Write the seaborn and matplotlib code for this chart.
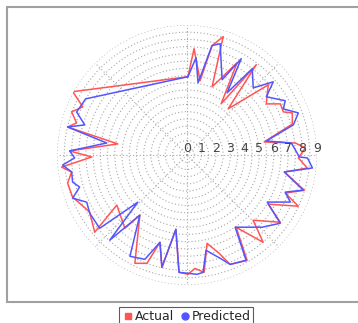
import numpy as np
import pandas as pd
import seaborn as sns
import matplotlib
matplotlib.use("Agg")
import matplotlib.pyplot as plt
from matplotlib.lines import Line2D

# angle (deg, clockwise from north) and value for each series
actual_angle = [0.7, 3.8, 10.0, 12.9, 17.0, 20.2, 28.5, 33.7, 37.5, 41.7,
                49.2, 57.2, 61.3, 65.9, 68.2, 73.6, 80.4, 83.7, 86.6, 91.5,
                96.2, 99.9, 106.7, 111.2, 114.7, 121.2, 125.8, 134.6, 138.9, 145.8,
                150.3, 158.5, 161.9, 167.2, 171.7, 176.0, 179.5, 183.9, 188.5, 192.6,
                197.2, 200.3, 205.7, 218.1, 220.3, 234.5, 230.1, 239.6, 249.8, 256.8,
                261.6, 264.5, 268.8, 272.0, 279.1, 283.2, 286.2, 290.5, 294.8, 299.0]
actual_value = [5.42, 7.38, 5.22, 7.77, 8.57, 5.03, 7.27, 4.26, 7.88, 4.28,
                7.43, 6.53, 7.37, 7.31, 7.85, 7.60, 5.42, 7.55, 8.21, 7.71,
                8.38, 6.84, 8.48, 7.30, 8.48, 6.57, 7.96, 6.43, 8.02, 6.05,
                8.40, 8.14, 7.16, 6.27, 8.21, 7.87, 8.26, 8.14, 5.20, 7.97,
                6.33, 8.00, 8.32, 5.29, 6.65, 5.97, 8.33, 7.81, 8.44, 8.49,
                8.07, 8.72, 6.60, 8.13, 4.85, 8.49, 7.96, 8.53, 7.95, 9.04]

pred_angle = [0.7, 5.3, 8.7, 12.9, 16.6, 25.0, 29.4, 32.8, 37.1, 44.6,
              49.7, 53.7, 61.1, 64.4, 69.3, 74.2, 80.0, 83.4, 91.0, 91.4,
              95.9, 99.9, 106.8, 110.7, 114.5, 120.4, 126.2, 133.8, 146.3, 150.7,
              158.5, 162.2, 168.7, 172.2, 175.2, 183.9, 188.5, 192.6, 197.2, 202.0,
              209.4, 218.1, 222.2, 226.2, 230.0, 239.1, 244.8, 249.3, 253.4, 256.7,
              261.6, 265.4, 268.5, 272.0, 278.5, 283.2, 286.4, 291.3, 299.0]
pred_value = [5.42, 6.76, 5.06, 7.77, 8.04, 5.75, 7.65, 5.12, 7.49, 6.53,
              7.83, 6.81, 7.77, 7.39, 8.24, 7.65, 5.57, 7.27, 7.78, 8.34,
              8.73, 6.84, 8.41, 7.27, 7.86, 6.44, 8.00, 7.22, 6.01, 8.36,
              8.14, 7.51, 6.73, 8.20, 8.29, 8.14, 5.20, 7.97, 6.33, 7.79,
              8.05, 5.29, 7.96, 4.72, 7.89, 7.85, 7.67, 8.46, 7.76, 8.14,
              8.07, 8.64, 7.78, 8.13, 5.62, 8.49, 7.38, 8.20, 8.02]

radial_labels = [str(i) for i in range(10)]
series_names = ["Actual", "Predicted"]
red = "#ff5555"
blue = "#5555ff"

sns.set_style("white")

fig = plt.figure(figsize=(3.58, 3.23), dpi=100)
fig.patch.set_facecolor("white")

# plot area border: left, top, bottom only (right side runs off the picture)
x0, x1 = 7 / 358, 1.05
yt, yb = 1 - 7 / 323, 1 - 302 / 323
for xs, ys in [([x0, x1], [yt, yt]), ([x0, x1], [yb, yb]), ([x0, x0], [yb, yt])]:
    fig.add_artist(Line2D(xs, ys, transform=fig.transFigure, color="#a0a0a0",
                          linewidth=1.5))

ax = fig.add_axes([57 / 358, 38 / 323, 260 / 358, 260 / 323], projection="polar")
ax.set_theta_zero_location("N")
ax.set_theta_direction(-1)
ax.set_facecolor("none")

def closed(angle, value):
    th = np.deg2rad(np.append(angle, angle[0]))
    rr = np.append(value, value[0])
    return pd.DataFrame({"theta": th, "r": rr})

sns.lineplot(data=closed(actual_angle, actual_value), x="theta", y="r", sort=False,
             estimator=None, color=red, linewidth=1.1, ax=ax)
sns.lineplot(data=closed(pred_angle, pred_value), x="theta", y="r", sort=False,
             estimator=None, color=blue, linewidth=1.1, ax=ax)

ax.set_ylim(0, 9.0)
ax.set_rticks(np.arange(0.5, 9.01, 0.5))
ax.set_yticklabels([])
ax.set_thetagrids(range(0, 360, 45), labels=[""] * 8)
ax.grid(True, color="#a8a8a8", linestyle=(0, (1, 2)), linewidth=0.8)
ax.spines["polar"].set_visible(False)
ax.set_xlabel("")
ax.set_ylabel("")

for i, lab in enumerate(radial_labels):
    ax.text(np.deg2rad(90), i, lab, ha="center", va="bottom", fontsize=9,
            color="#444444")

handles = [Line2D([], [], marker="s", linestyle="none", color=red, markersize=5),
           Line2D([], [], marker="o", linestyle="none", color=blue, markersize=5)]
leg = fig.legend(handles, series_names, loc="lower center", bbox_to_anchor=(0.52, -0.03),
                 ncol=2, fontsize=9, frameon=True, fancybox=False,
                 handletextpad=0.0, columnspacing=0.4, borderpad=0.25,
                 handlelength=1.0)
leg.get_frame().set_edgecolor("#333333")
leg.get_frame().set_linewidth(0.8)

fig.savefig("out.png", dpi=100)
